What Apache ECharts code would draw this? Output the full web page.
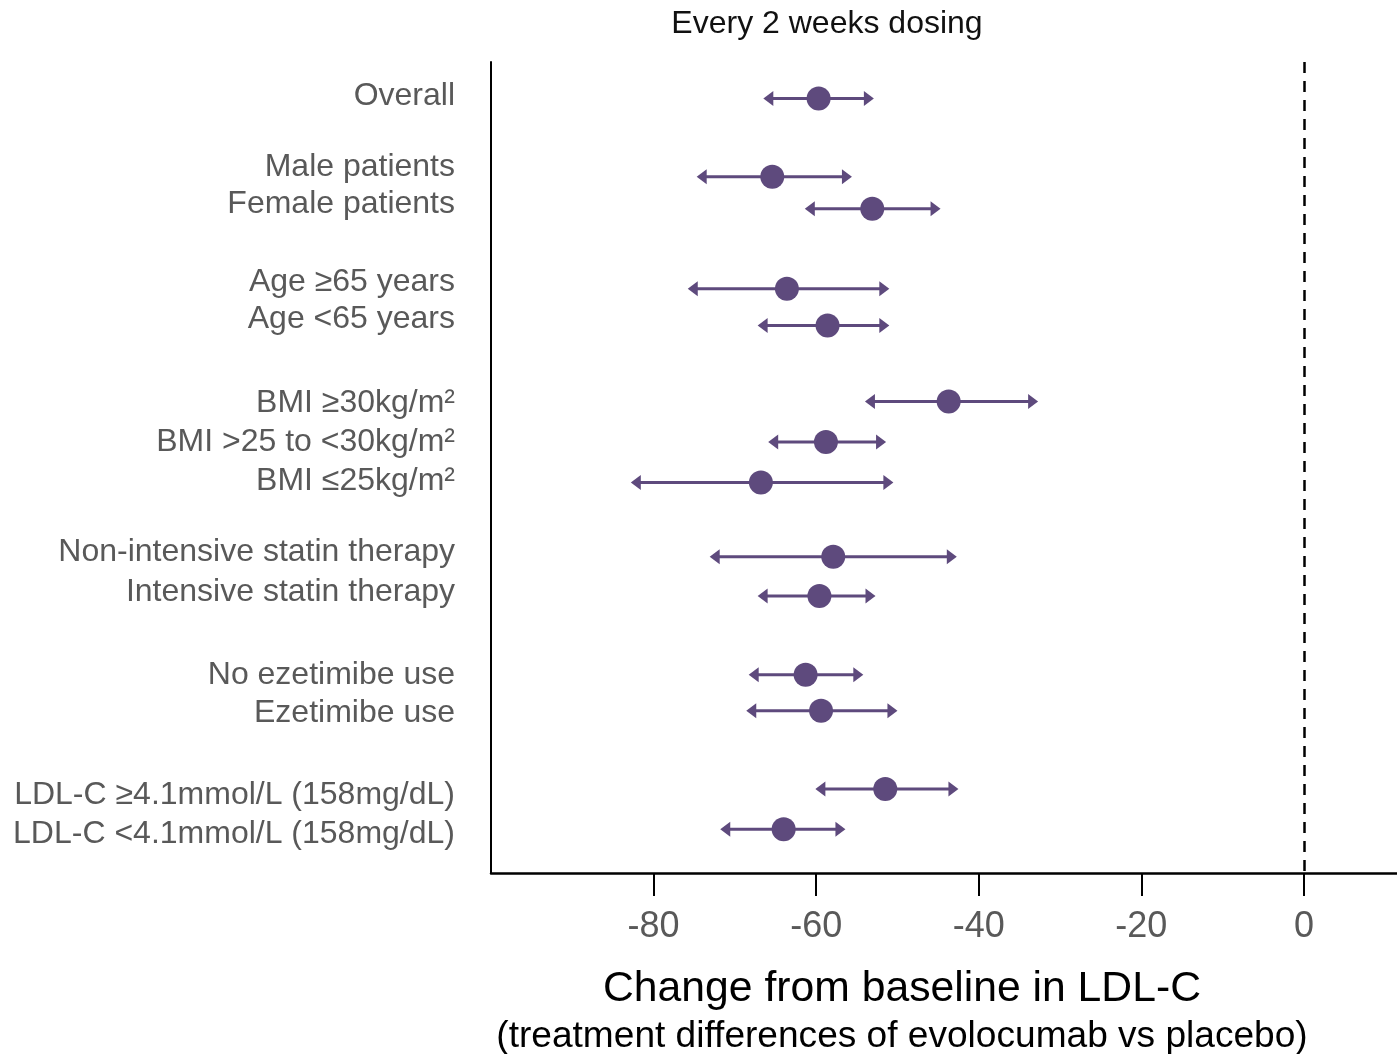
<!DOCTYPE html>
<html>
<head>
<meta charset="utf-8">
<script src="https://cdn.jsdelivr.net/npm/echarts@6/dist/echarts.min.js"></script>
<style>
html,body{margin:0;padding:0;background:#fff;}
#chart{width:1397px;height:1054px;}
</style>
</head>
<body>
<div id="chart"></div>
<script>
// ---- data ----
const subgroups = [
  'Overall',
  'Male patients',
  'Female patients',
  'Age \u226565 years',
  'Age <65 years',
  'BMI \u226530kg/m\u00B2',
  'BMI >25 to <30kg/m\u00B2',
  'BMI \u226425kg/m\u00B2',
  'Non-intensive statin therapy',
  'Intensive statin therapy',
  'No ezetimibe use',
  'Ezetimibe use',
  'LDL-C \u22654.1mmol/L (158mg/dL)',
  'LDL-C <4.1mmol/L (158mg/dL)'
];
const estimate = [-59.7, -65.4, -53.1, -63.6, -58.6, -43.7, -58.8, -66.8, -57.9, -59.6, -61.3, -59.4, -51.5, -64.0];
const ciLow    = [-66.5, -74.7, -61.4, -75.8, -67.2, -54.0, -65.9, -82.8, -73.1, -67.2, -68.3, -68.6, -60.1, -71.8];
const ciHigh   = [-52.9, -55.6, -44.7, -51.0, -51.0, -32.7, -51.4, -50.5, -42.7, -52.7, -54.2, -50.0, -42.5, -56.4];
// row position of each subgroup's mark and of its label (rows counted from the top)
const markRow  = [0.90, 2.83, 3.62, 5.59, 6.50, 8.37, 9.37, 10.37, 12.20, 13.17, 15.11, 16.00, 17.93, 18.92];
const labelRow = [0.84, 2.60, 3.51, 5.42, 6.35, 8.41, 9.37, 10.33, 12.10, 13.07, 15.12, 16.07, 18.09, 19.04];
const xTickValues = [-80, -60, -40, -20, 0];
const refValue = 0;
const chartTitle = 'Every 2 weeks dosing';
const xTitle = 'Change from baseline in LDL-C';
const xSubtitle = '(treatment differences of evolocumab vs placebo)';

// ---- chart ----
const COLOR = '#5e4a7d';
const FONT = '"Liberation Sans", Arial, Helvetica, sans-serif';

const ciData = subgroups.map((g, i) => [ciLow[i], ciHigh[i], markRow[i]]);
const pointData = subgroups.map((g, i) => [estimate[i], markRow[i]]);
const labelMap = {};
labelRow.forEach((r, i) => { labelMap[r] = subgroups[i]; });

function renderCI(params, api) {
  const y = api.value(2);
  const p0 = api.coord([api.value(0), y]);
  const p1 = api.coord([api.value(1), y]);
  const L = 10, H = 7.5;
  return {
    type: 'group',
    children: [
      { type: 'line', shape: { x1: p0[0] + L - 1, y1: p0[1], x2: p1[0] - L + 1, y2: p1[1] },
        style: { stroke: COLOR, lineWidth: 3 } },
      { type: 'polygon', shape: { points: [[p0[0], p0[1]], [p0[0] + L, p0[1] - H], [p0[0] + L, p0[1] + H]] },
        style: { fill: COLOR } },
      { type: 'polygon', shape: { points: [[p1[0], p1[1]], [p1[0] - L, p1[1] - H], [p1[0] - L, p1[1] + H]] },
        style: { fill: COLOR } }
    ]
  };
}

const chart = echarts.init(document.getElementById('chart'), null, { renderer: 'canvas' });
chart.setOption({
  backgroundColor: '#ffffff',
  animation: false,
  textStyle: { fontFamily: FONT },
  title: [
    { text: chartTitle, left: 827, top: 8, textAlign: 'center', padding: 0,
      textStyle: { fontFamily: FONT, fontSize: 32, fontWeight: 'normal', color: '#111' } },
    { text: xTitle, left: 902, top: 968, textAlign: 'center', padding: 0,
      textStyle: { fontFamily: FONT, fontSize: 42.7, fontWeight: 'normal', color: '#000' } },
    { text: xSubtitle, left: 902, top: 1018, textAlign: 'center', padding: 0,
      textStyle: { fontFamily: FONT, fontSize: 37.1, fontWeight: 'normal', color: '#000' } }
  ],
  grid: { left: 491, right: 0, top: 62, bottom: 181, containLabel: false },
  xAxis: {
    type: 'value',
    min: -100,
    max: 11.45,
    axisLine: { show: true, onZero: false, lineStyle: { color: '#000', width: 2.5 } },
    axisTick: { show: true, length: 23, customValues: xTickValues, lineStyle: { color: '#000', width: 2 } },
    axisLabel: { show: true, customValues: xTickValues, margin: 36, fontSize: 36, color: '#595959', fontFamily: FONT },
    splitLine: { show: false }
  },
  yAxis: {
    type: 'value',
    inverse: true,
    min: 0,
    max: 20,
    axisLine: { show: true, onZero: false, lineStyle: { color: '#000', width: 2 } },
    axisTick: { show: false },
    axisLabel: {
      show: true,
      customValues: labelRow,
      margin: 36,
      fontSize: 32,
      color: '#595959',
      fontFamily: FONT,
      formatter: v => labelMap[v] || ''
    },
    splitLine: { show: false }
  },
  series: [
    {
      type: 'custom',
      renderItem: renderCI,
      data: ciData,
      encode: { x: [0, 1], y: 2 },
      z: 2,
      markLine: {
        silent: true,
        symbol: 'none',
        label: { show: false },
        lineStyle: { color: '#000', width: 2.5, type: [11, 8] },
        data: [{ xAxis: refValue }]
      }
    },
    {
      type: 'scatter',
      data: pointData,
      symbol: 'circle',
      symbolSize: 24,
      itemStyle: { color: COLOR, opacity: 1 },
      z: 3
    }
  ]
});
</script>
</body>
</html>
